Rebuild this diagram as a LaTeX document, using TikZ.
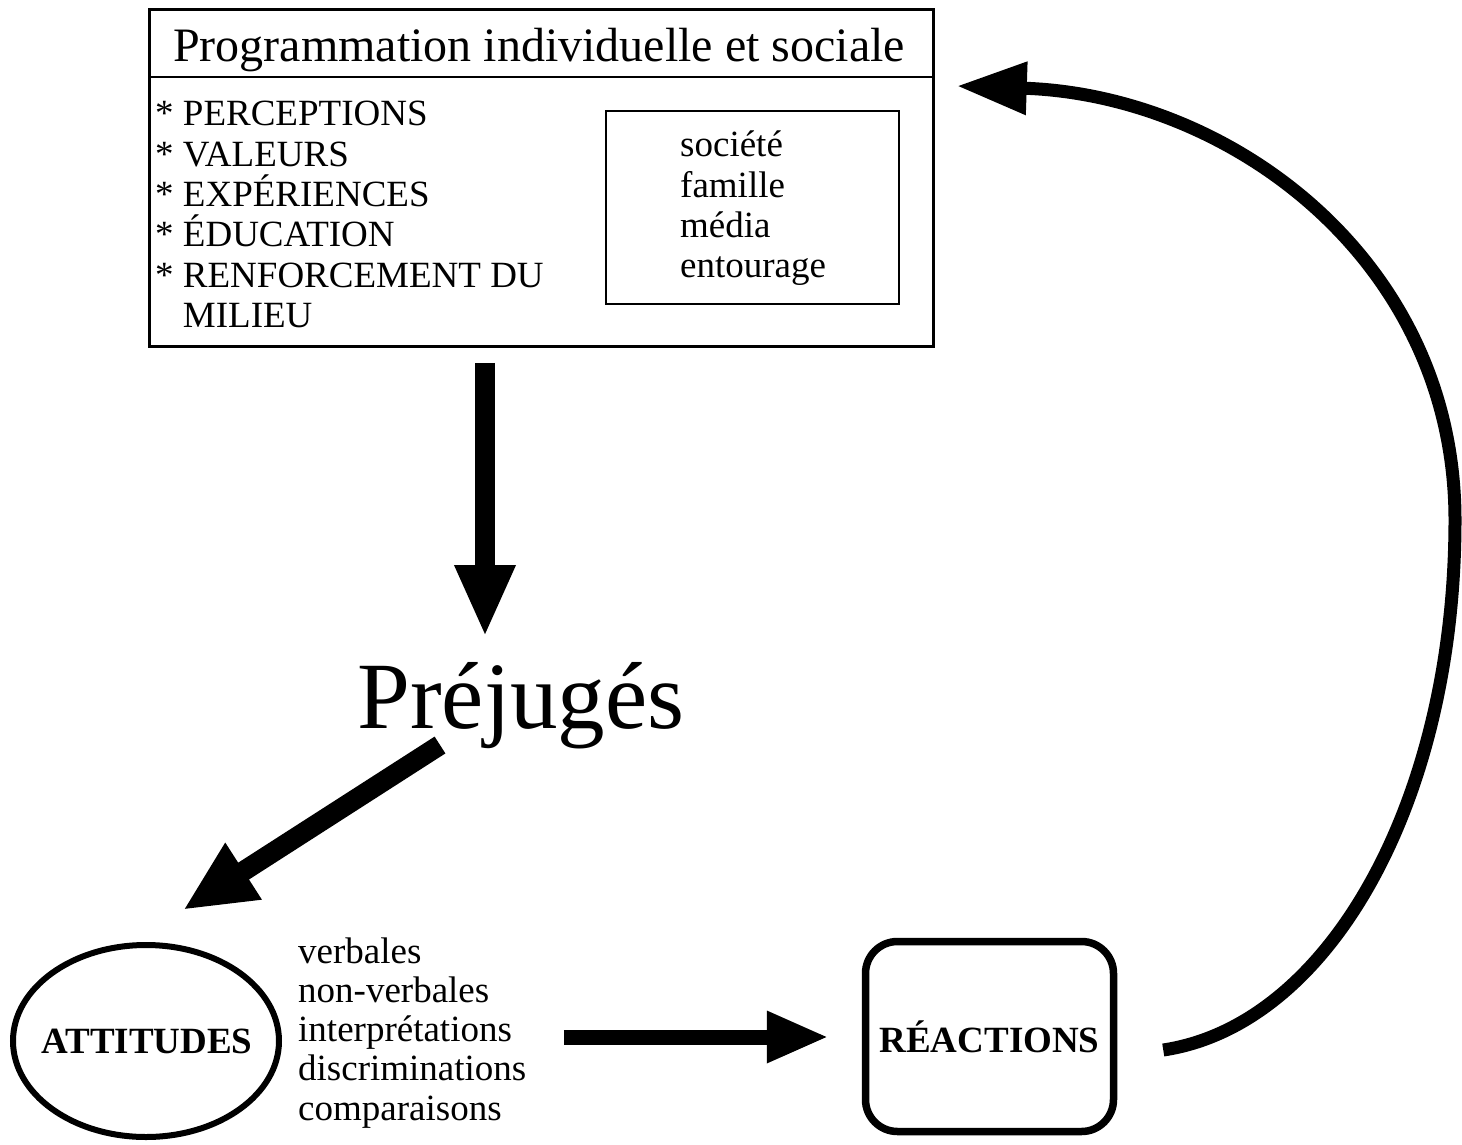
\documentclass[tikz,border=0pt]{standalone}
\usepackage{fontspec}
\setmainfont{Liberation Serif}
\usetikzlibrary{arrows.meta,shapes.geometric,calc}

\begin{document}
\begin{tikzpicture}[x=1pt,y=-1pt,
  txt/.style={inner sep=0pt, font=\fontsize{37}{40}\selectfont, anchor=base west},
  boldtxt/.style={inner sep=0pt, font=\fontsize{37}{40}\selectfont\bfseries},
  fatarrow/.style={line width=#1, draw=black, line join=miter}
]
% canvas
\fill[white] (0,0) rectangle (1462,1145);
\useasboundingbox (0,0) rectangle (1462,1145);

% programming box with title band
\node[draw, line width=2.5pt, minimum width=784pt, minimum height=337pt, inner sep=0pt] (prog) at (541.5,178) {};
\node[inner sep=0pt, font=\fontsize{48}{50}\selectfont, anchor=base] (title) at (539,62) {Programmation individuelle et sociale};
\draw[line width=2pt] ($(prog.north west)+(0,68.5)$) -- ($(prog.north east)+(0,68.5)$);

% list of influences
\foreach \t [count=\i] in {{* PERCEPTIONS},{* VALEURS},{* EXPÉRIENCES},{* ÉDUCATION},{* RENFORCEMENT DU},{\hphantom{*\ }MILIEU}}
  \node[txt] (item\i) at (155,{126+40.3*(\i-1)}) {\t};

% sources box
\node[draw, line width=2pt, minimum width=293pt, minimum height=193pt, inner sep=0pt] (soc) at (752.5,207.5) {};
\foreach \t [count=\i] in {société,famille,média,entourage}
  \node[txt] (src\i) at (680,{157+40*(\i-1)}) {\t};

% central word
\node[inner sep=0pt, font=\fontsize{95}{100}\selectfont, anchor=base] (prej) at (521,728) {Préjugés};

% attitudes
\node[draw, ellipse, line width=6pt, minimum width=266pt, minimum height=192pt, inner sep=0pt] (attring) at (146,1041) {};
\node[boldtxt] (att) at (147,1041) {ATTITUDES};
\foreach \t [count=\i] in {verbales,non-verbales,interprétations,discriminations,comparaisons}
  \node[txt] (kind\i) at (298,{963+39.3*(\i-1)}) {\t};

% reactions
\node[draw, rounded corners=32pt, line width=7.5pt, minimum width=248pt, minimum height=190pt, inner sep=0pt, boldtxt] (reac) at (989.5,1036.5) {RÉACTIONS};

% arrows
\draw[fatarrow=20pt, -{Triangle[length=72pt,width=56pt]}]
  ($(prog.south)+(-56.5,15)$) -- ($(prej.base)+(-36,-91)$);
\draw[fatarrow=20pt, -{Triangle[length=72pt,width=62pt]}]
  ($(prej.base)+(-81,17)$) -- ($(attring.north)+(37,-32)$);
\draw[fatarrow=15pt, -{Triangle[length=62pt,width=48pt]}]
  ($(reac.west)+(-298,0.5)$) -- ($(reac.west)+(-33,0.5)$);
\coordinate (loopA) at ($(reac.east)+(46,13.5)$);
\coordinate (loopB) at ($(prog.east)+(22,-92)$);
\draw[fatarrow=13pt, -{Triangle[length=70pt,width=50pt]}]
  (loopA) .. controls (1330,1025) and (1455,800) .. (1455,520)
  .. controls (1455,260) and (1230,95) .. (loopB);
\end{tikzpicture}
\end{document}
